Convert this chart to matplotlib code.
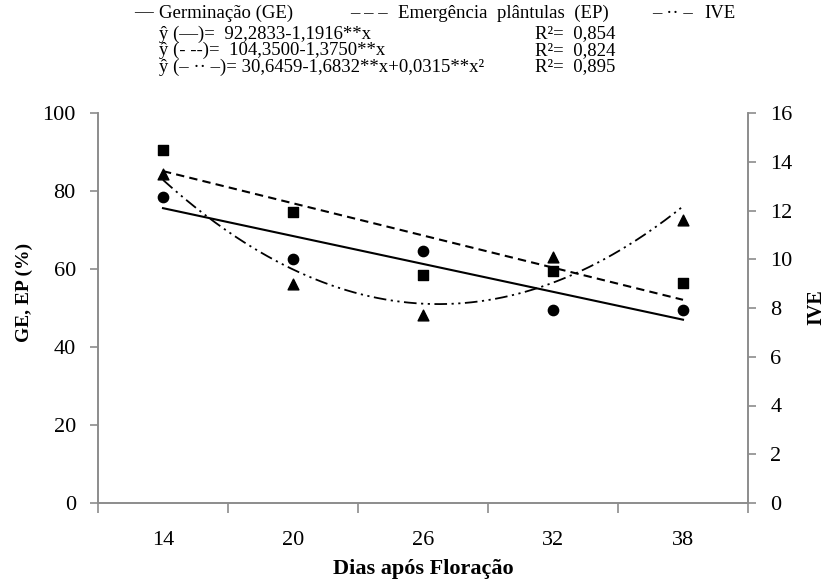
import numpy as np
import matplotlib.pyplot as plt

plt.rcParams["font.family"] = ["Liberation Serif", "DejaVu Serif"]

# Data
dias = [14, 20, 26, 32, 38]
ge = [78.5, 62.5, 64.5, 49.5, 49.5]
ep = [90.5, 74.5, 58.5, 59.5, 56.5]
ive = [13.5, 9.0, 7.7, 10.1, 11.6]

# fitted equations
ge_coef = (92.2833, -1.1916)
ep_coef = (104.3500, -1.3750)
ive_coef = (30.6459, -1.6832, 0.0315)

fig = plt.figure(figsize=(8.27, 5.82), dpi=100)
ax = fig.add_axes([98 / 827, 1 - 503 / 582, 650 / 827, 390 / 582])
ax2 = ax.twinx()

xf = np.linspace(14, 38, 200)
ax.plot(xf, ge_coef[0] + ge_coef[1] * xf, color="black", lw=1.5, ls="-")
ax.plot(xf, ep_coef[0] + ep_coef[1] * xf, color="black", lw=1.5, ls=(0, (4, 2.5)))
ax2.plot(xf, ive_coef[0] + ive_coef[1] * xf + ive_coef[2] * xf ** 2,
         color="black", lw=1.3, ls=(0, (7, 2.5, 1.2, 2.5, 1.2, 2.5)))

ax.scatter(dias, ge, marker="o", s=55, color="black", zorder=3)
ax.scatter(dias, ep, marker="s", s=50, color="black", zorder=3)
ax2.scatter(dias, ive, marker="^", s=60, color="black", zorder=3)

ax.set_xlim(11, 41)
ax.set_ylim(0, 100)
ax2.set_ylim(0, 16)
ax.set_xticks(dias)
ax.set_xticks(np.arange(11, 42, 6), minor=True)
ax.set_yticks(range(0, 101, 20))
ax2.set_yticks(range(0, 17, 2))

gray = "#8c8c8c"
for a in (ax, ax2):
    a.spines["top"].set_visible(False)
    for s in ("left", "right", "bottom"):
        a.spines[s].set_color(gray)
        a.spines[s].set_linewidth(1.2)
    a.tick_params(axis="y", labelsize=16, color=gray, length=6, width=1.2, pad=10)
ax.tick_params(axis="x", which="major", length=0, labelsize=16, pad=20)
ax.tick_params(axis="x", which="minor", length=7, color=gray, width=1.2)

ax.set_xlabel("Dias após Floração", fontsize=16, fontweight="bold")
ax.xaxis.set_label_coords(0.5, -(559 - 503) / 390)
ax.set_ylabel("GE, EP (%)", fontsize=14, fontweight="bold")
ax.yaxis.set_label_coords(-(98 - 33) / 650, (503 - 292) / 390)
ax2.set_ylabel("IVE", fontsize=14.5, fontweight="bold")
ax2.yaxis.set_label_coords((806 - 98) / 650, (503 - 307) / 390)

# legend / equations as text
fs = 13.5
y0 = 1 - 13 / 582
fig.text(134 / 827, y0, "—", fontsize=fs, va="center", ha="left")
fig.text(159 / 827, y0, "Germinação (GE)", fontsize=fs, va="center", ha="left")
fig.text(350 / 827, y0, "– – –", fontsize=fs, va="center", ha="left")
fig.text(398 / 827, y0, "Emergência  plântulas  (EP)", fontsize=fs, va="center", ha="left")
fig.text(652 / 827, y0, "– ·· –", fontsize=fs, va="center", ha="left")
fig.text(704 / 827, y0, "IVE", fontsize=fs, va="center", ha="left")

eqs = ["ŷ (—)=  92,2833-1,1916**x",
       "ŷ (- --)=  104,3500-1,3750**x",
       "ŷ (– ·· –)= 30,6459-1,6832**x+0,0315**x²"]
r2 = ["R²=  0,854", "R²=  0,824", "R²=  0,895"]
for i, (e, r) in enumerate(zip(eqs, r2)):
    y = 1 - (34 + 16.5 * i) / 582
    fig.text(159 / 827, y, e, fontsize=fs, va="center", ha="left")
    fig.text(535 / 827, y, r, fontsize=fs, va="center", ha="left")

fig.savefig("out.png", dpi=100)
